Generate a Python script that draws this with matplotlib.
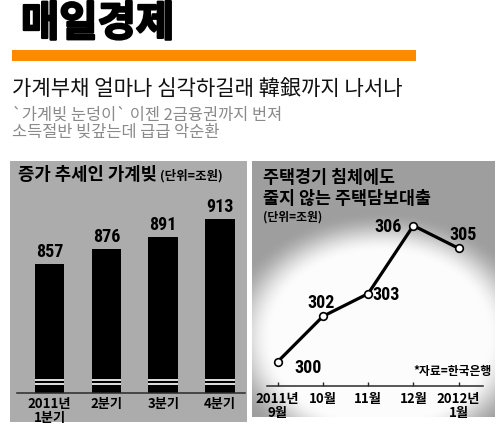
import numpy as np
import matplotlib
matplotlib.use("Agg")
import matplotlib.pyplot as plt
from matplotlib.patches import Rectangle
import matplotlib.patheffects as pe
from matplotlib import font_manager as fm

# ---------------- data ----------------
bar_labels = ["2011년\n1분기", "2분기", "3분기", "4분기"]
bar_values = [857, 876, 891, 913]

line_labels = ["2011년\n9월", "10월", "11월", "12월", "2012년\n1월"]
line_values = [300, 302, 303, 306, 305]

logo_text = "매일경제"
headline = "가계부채 얼마나 심각하길래 韓銀까지 나서나"
sub1 = "`가계빚 눈덩이` 이젠 2금융권까지 번져"
sub2 = "소득절반 빚갚는데 급급 악순환"
left_title = "증가 추세인 가계빚"
unit_text = "(단위=조원)"
right_title = "주택경기 침체에도\n줄지 않는 주택담보대출"
source_text = "*자료=한국은행"

# ---------------- style ----------------
plt.rcParams['font.family'] = ['Noto Sans CJK KR', 'DejaVu Sans']

# pick a condensed bold face for the numbers if one is installed
num_kw = dict(family=['Noto Sans CJK KR', 'DejaVu Sans'], fontsize=12)
_entries = fm.fontManager.ttflist
_names = {e.name for e in _entries}
_narrow = None
for cand in ['Liberation Sans Narrow', 'Roboto Condensed', 'Open Sans Condensed',
             'Noto Sans Condensed', 'DejaVu Sans Condensed']:
    if cand in _names:
        _narrow = dict(family=[cand, 'DejaVu Sans'], fontsize=13)
        break
if _narrow is None:
    for fam in ['Roboto', 'Open Sans', 'Noto Sans', 'DejaVu Sans', 'Liberation Sans']:
        if any(e.name == fam and str(e.stretch) in ('condensed', 'semi-condensed',
                                                     'extra-condensed')
               for e in _entries):
            _narrow = dict(family=[fam, 'DejaVu Sans'], fontstretch='condensed',
                           fontsize=13)
            break
if _narrow is not None:
    num_kw = _narrow

W, H = 500, 435
fig = plt.figure(figsize=(W / 100, H / 100), dpi=100)
fig.patch.set_facecolor('white')


def fx(px):
    return px / W


def fy(py):
    return 1 - py / H


def box(x0, y0, x1, y1):
    return [fx(x0), fy(y1), fx(x1) - fx(x0), fy(y0) - fy(y1)]


# header
fig.text(fx(21), fy(25), logo_text, fontsize=30, fontweight='bold', color='black',
         va='center', ha='left',
         path_effects=[pe.withStroke(linewidth=1.6, foreground='black')])
fig.patches.append(Rectangle((fx(12), fy(61.5)), fx(416) - fx(12), fy(51) - fy(61.5),
                             transform=fig.transFigure, facecolor='#ff8a00',
                             edgecolor='none', zorder=-5))
fig.text(fx(12), fy(89), headline, fontsize=15.2, color='#111111', va='center', ha='left')
fig.text(fx(12), fy(115), sub1, fontsize=11.8, color='#8a8a8a', va='center', ha='left')
fig.text(fx(12), fy(132.5), sub2, fontsize=11.8, color='#8a8a8a', va='center', ha='left')

# panel backgrounds
fig.patches.append(Rectangle((fx(10), fy(423)), fx(247) - fx(10), fy(162) - fy(423),
                             transform=fig.transFigure, facecolor='#acacac',
                             edgecolor='none', zorder=-5))

# right glow panel
gx0, gy0, gx1, gy1 = 252, 162, 495, 418
gax = fig.add_axes(box(gx0, gy0, gx1, gy1), zorder=-4)
xs = np.arange(gx0, gx1) + 0.5
ys = np.arange(gy0, gy1) + 0.5
XX, YY = np.meshgrid(xs, ys)
r = np.sqrt(((XX - 380) / 150) ** 2 + ((YY - 338) / 118) ** 2)
t = np.clip((r - 0.72) / (1.06 - 0.72), 0, 1)
t = t * t * (3 - 2 * t)
img = 0.985 - (0.985 - 0.62) * t
gax.imshow(img, cmap='gray', vmin=0, vmax=1, aspect='auto', interpolation='bilinear',
           extent=(0, 1, 0, 1), origin='upper')
gax.axis('off')

# ---------------- left bar chart ----------------
lax = fig.add_axes(box(10, 162, 247, 394))
lax.set_facecolor('none')
xpos = np.arange(len(bar_values))
bw = 0.52
lax.bar(xpos, bar_values, width=bw, color='black', zorder=2)
for i in xpos:
    lax.hlines([713.5, 708.0], i - bw / 2, i + bw / 2, color='#e0e0e0', lw=1.4, zorder=3)
lax.set_xlim(-0.698, 3.475)
lax.set_ylim(697, 985.6)
lax.axhline(697, xmin=(17 - 10) / 237, xmax=(245 - 10) / 237, color='#2a2a2a', lw=1.1,
            zorder=4, clip_on=False)
for s in lax.spines.values():
    s.set_visible(False)
lax.set_yticks([])
lax.set_xticks(xpos)
lax.set_xticklabels(bar_labels, fontsize=9.5, fontweight='bold', linespacing=0.95)
lax.tick_params(axis='x', length=0, pad=2.5)
for i, v in zip(xpos, bar_values):
    lax.annotate(str(v), (i, v), xytext=(0, 3), textcoords='offset points',
                 ha='center', va='bottom', fontweight='bold', **num_kw)
fig.text(fx(18), fy(175), left_title, fontsize=12.8, fontweight='bold', va='center',
         ha='left')
fig.text(fx(160), fy(176), unit_text, fontsize=9, fontweight='bold', va='center',
         ha='left')

# ---------------- right line chart ----------------
rax = fig.add_axes(box(267, 162, 483, 386.7))
rax.set_facecolor('none')
lx = np.arange(len(line_values))
rax.plot(lx, line_values, color='black', lw=2.3, zorder=3, solid_capstyle='round')
rax.plot(lx, line_values, 'o', ms=5.5, mfc='white', mec='black', mew=1.2, zorder=4)
rax.set_xlim(-0.237, 4.54)
rax.set_ylim(298.94, 308.85)
for k in ['top', 'right', 'left']:
    rax.spines[k].set_visible(False)
rax.spines['bottom'].set_color('#2a2a2a')
rax.spines['bottom'].set_linewidth(1.1)
rax.set_yticks([])
rax.set_xticks(lx)
rax.set_xticklabels(line_labels, fontsize=9.5, fontweight='bold', linespacing=0.95)
rax.tick_params(axis='x', direction='in', length=3, width=1, color='#2a2a2a', pad=4)

offsets = [(22, -4), (-1, 10), (13, 0), (-18, 0), (3, 10.5)]
for i, v, off in zip(lx, line_values, offsets):
    rax.annotate(str(v), (i, v), xytext=off, textcoords='offset points',
                 ha='center', va='center', fontweight='bold', zorder=5, **num_kw)

fig.text(fx(263), fy(188.5), right_title, fontsize=12.5, fontweight='bold', va='center',
         ha='left', linespacing=1.22)
fig.text(fx(263), fy(217), unit_text, fontsize=8.5, fontweight='bold', va='center',
         ha='left')
fig.text(fx(492), fy(372), source_text, fontsize=8.5, fontweight='bold', va='center',
         ha='right')

fig.savefig("out.png", dpi=100, facecolor='white')
